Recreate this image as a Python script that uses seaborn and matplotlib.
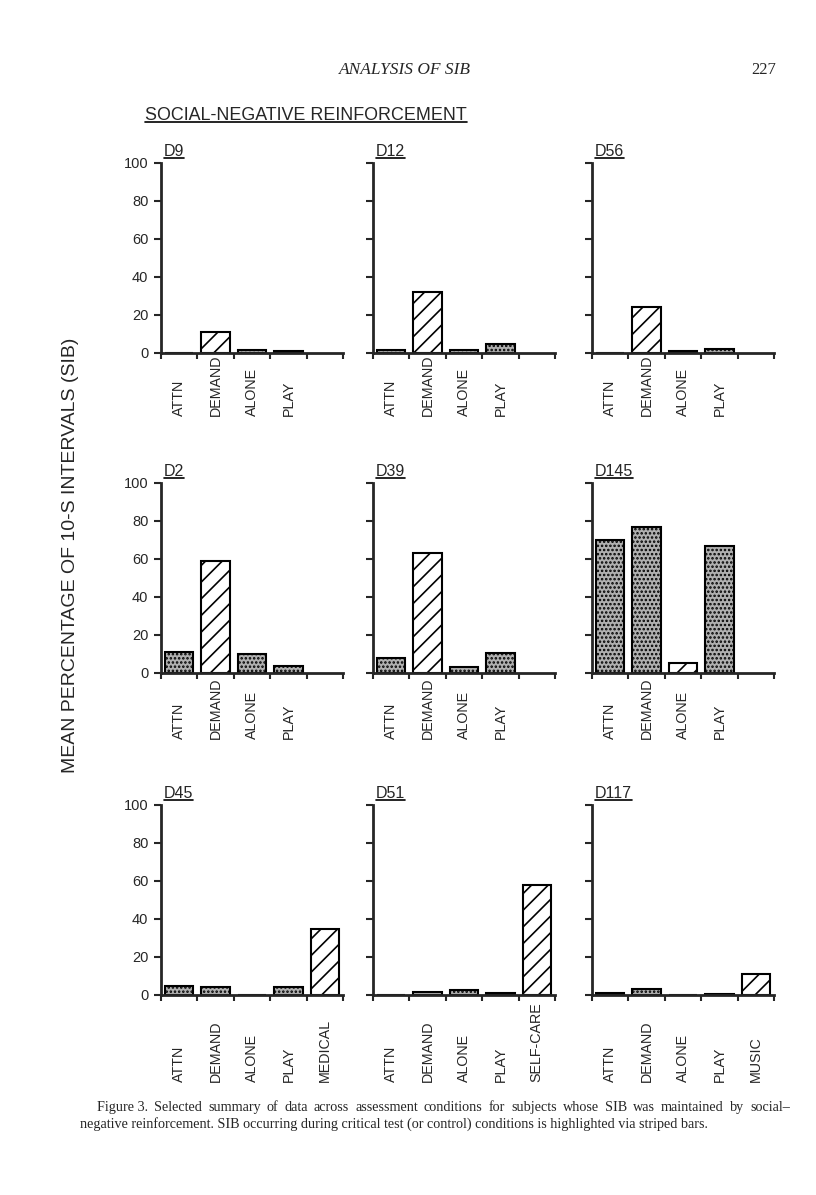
import matplotlib.pyplot as plt
import seaborn as sns
import pandas as pd
from matplotlib.lines import Line2D

# condiciones de evaluacion
conds = ["ATTN", "DEMAND", "ALONE", "PLAY"]
conds_d45 = conds + ["MEDICAL"]
conds_d51 = conds + ["SELF-CARE"]
conds_d117 = conds + ["MUSIC"]

# porcentaje medio de intervalos con SIB
d9 = [0, 11, 1.5, 0.8]
d12 = [1.5, 32, 1.5, 4.5]
d56 = [0, 24, 1, 2]
d2 = [11, 59, 10, 3.5]
d39 = [8, 63, 3, 10.5]
d145 = [70, 77, 5, 67]
d45 = [4.5, 4, 0, 4, 35]
d51 = [0, 1.5, 2.5, 1, 58]
d117 = [1, 3, 0, 0.5, 11]

# condicion de prueba (barra rayada) de cada sujeto
rayada = ["DEMAND", "DEMAND", "DEMAND", "DEMAND", "DEMAND", "ALONE", "MEDICAL", "SELF-CARE", "MUSIC"]

paneles = [
    ("D9", conds, d9), ("D12", conds, d12), ("D56", conds, d56),
    ("D2", conds, d2), ("D39", conds, d39), ("D145", conds, d145),
    ("D45", conds_d45, d45), ("D51", conds_d51, d51), ("D117", conds_d117, d117),
]

W, H = 816, 1195
izquierdas = [161, 373, 592]
arribas = [163, 483, 805]
ancho, alto = 182, 190
bajada_etiquetas = [0.33, 0.35, 0.46]

sns.set_style("ticks")
plt.rcParams["font.family"] = ["Liberation Sans", "DejaVu Sans"]
plt.rcParams["hatch.linewidth"] = 1.2

fig = plt.figure(figsize=(W / 100, H / 100), dpi=100)
subrayar = []


def dibujar(ax, nombre, cats, vals, prueba, fila, col):
    df = pd.DataFrame({"cond": cats, "pct": vals})
    sns.barplot(data=df, x="cond", y="pct", ax=ax, color="#b0b0b0", saturation=1,
                width=0.78, edgecolor="black", linewidth=1.5)
    for barra, c in zip(ax.patches, cats):
        if c == prueba:
            barra.set_facecolor("white")
            barra.set_hatch("//")
        else:
            barra.set_hatch("....")
    ax.set_xlim(-0.5, 4.5)
    ax.set_ylim(0, 100)
    ax.set_xticks([i - 0.5 for i in range(6)])
    ax.set_xticklabels([])
    ax.set_yticks(range(0, 101, 20))
    if col > 0:
        ax.set_yticklabels([])
    ax.set_xlabel("")
    ax.set_ylabel("")
    ax.tick_params(axis="y", direction="out", length=5, width=1.5, labelsize=10.5, pad=4)
    ax.tick_params(axis="x", direction="out", length=4, width=1.5)
    sns.despine(ax=ax)
    for lado in ["left", "bottom"]:
        ax.spines[lado].set_linewidth(2)
    for i, c in enumerate(cats):
        ax.text(i, -bajada_etiquetas[fila], c, transform=ax.get_xaxis_transform(),
                rotation=90, ha="center", va="bottom", fontsize=10.3)
    t = ax.text(0.015, 1.02, nombre, transform=ax.transAxes, fontsize=11.5,
                ha="left", va="bottom")
    subrayar.append(t)


for k, (nombre, cats, vals) in enumerate(paneles):
    fila, col = divmod(k, 3)
    rect = [izquierdas[col] / W, 1 - (arribas[fila] + alto) / H, ancho / W, alto / H]
    ax = fig.add_axes(rect)
    dibujar(ax, nombre, cats, vals, rayada[k], fila, col)

# encabezado de pagina
fig.text(405 / W, 1 - 70 / H, "ANALYSIS OF SIB", family="Liberation Serif", style="italic",
         fontsize=12.5, ha="center", va="center")
fig.text(776 / W, 1 - 70 / H, "227", family="Liberation Serif", fontsize=12,
         ha="right", va="center")
titulo = fig.text(145 / W, 1 - 115 / H, "SOCIAL-NEGATIVE REINFORCEMENT", fontsize=12.9,
                  ha="left", va="center")
subrayar.append(titulo)

fig.text(71 / W, 1 - 555 / H, "MEAN PERCENTAGE OF 10-S INTERVALS (SIB)", rotation=90,
         fontsize=14, ha="center", va="center")

# pie de figura
linea1 = ["Figure 3.", "Selected", "summary", "of", "data", "across", "assessment", "conditions",
          "for", "subjects", "whose", "SIB", "was", "maintained", "by", "social\u2013"]
linea2 = ("negative reinforcement. SIB occurring during critical test (or control) "
          "conditions is highlighted via striped bars.")
piezas = [fig.text(0, 1 - 1111 / H, p, family="Liberation Serif", fontsize=10.2, va="baseline")
          for p in linea1]
fig.text(80 / W, 1 - 1128 / H, linea2, family="Liberation Serif", fontsize=10.2, va="baseline")

fig.canvas.draw()
anchos = [p.get_window_extent().width for p in piezas]
x0, x1 = 97, 790
hueco = (x1 - x0 - sum(anchos)) / (len(piezas) - 1)
x = x0
for p, a in zip(piezas, anchos):
    p.set_x(x / W)
    x += a + hueco

for t in subrayar:
    bb = t.get_window_extent()
    y = bb.y0 + 1.5
    fig.add_artist(Line2D([bb.x0 / W, bb.x1 / W], [y / H, y / H], transform=fig.transFigure,
                          color="black", linewidth=1.2))

fig.savefig("out.png", dpi=100)
